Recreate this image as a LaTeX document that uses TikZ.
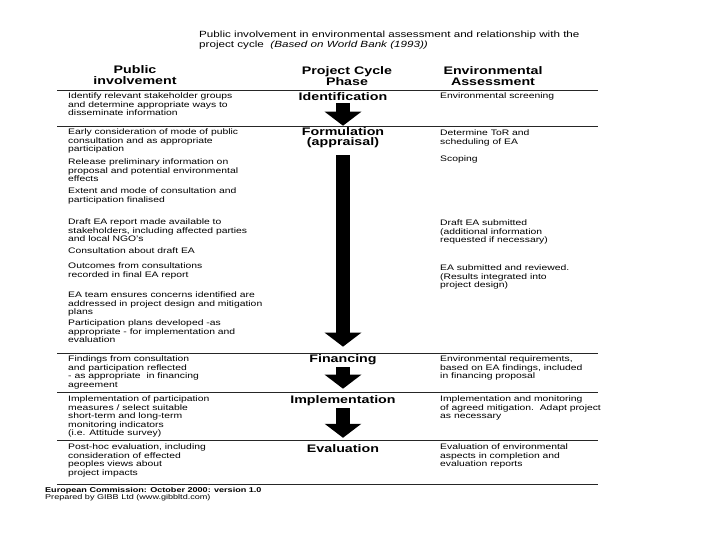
\documentclass[tikz,border=0pt]{standalone}
\usepackage{fontspec}
\setmainfont{Liberation Sans}[FakeStretch=1.3]
\usetikzlibrary{arrows.meta, positioning}

\begin{document}
\begin{tikzpicture}[
    x=1bp, y=-1bp,
    titletxt/.style={anchor=north west, inner sep=0pt, align=left, font=\fontsize{9}{9.5}\selectfont},
    hdr/.style={inner sep=0pt, align=center, font=\fontsize{11}{10.5}\selectfont\bfseries},
    phase/.style={inner sep=0pt, align=center, font=\fontsize{11}{10}\selectfont\bfseries},
    pubtxt/.style={anchor=north west, inner sep=0pt, align=left, font=\fontsize{8}{8.5}\selectfont},
    envtxt/.style={pubtxt},
    foottxt/.style={anchor=north west, inner sep=0pt, align=left, font=\fontsize{7}{7.5}\selectfont},
    rule/.style={line width=0.9bp, black!85},
    blockarr/.style={line width=14bp, -{Triangle[width=36bp, length=14bp]}}
]
    \useasboundingbox (0,0) rectangle (720,540);
    \fill[white] (0,0) rectangle (720,540);

    % Title
    \node[titletxt] (title) at (199,31) {Public involvement in environmental assessment and relationship with the\\project cycle\ \ \textit{(Based on World Bank (1993))}};

    % Column headers
    \node[hdr] (hdrpub) at (135,75) {Public\\involvement};
    \node[hdr] (hdrphase) at (347,76) {Project Cycle\\Phase};
    \node[hdr] (hdrenv) at (493,76) {Environmental\\Assessment};

    % Separators
    \foreach \y in {90,126,353,392,440,484}
        \draw[rule] (57,\y) -- (598,\y);

    % Project cycle phases
    \node[phase] (ident) at (343,97) {Identification};
    \node[phase] (form) at (343,138) {Formulation\\(appraisal)};
    \node[phase] (fin) at (343,360) {Financing};
    \node[phase] (impl) at (343,401) {Implementation};
    \node[phase] (evalph) at (343,449) {Evaluation};

    % Public involvement
    \node[pubtxt] (identify) at (68,93) {Identify relevant stakeholder groups\\and determine appropriate ways to\\disseminate information};
    \node[pubtxt] (early) at (68,129) {Early consideration of mode of public\\consultation and as appropriate\\participation};
    \node[pubtxt] (release) at (68,159) {Release preliminary information on\\proposal and potential environmental\\effects};
    \node[pubtxt] (extent) at (68,188) {Extent and mode of consultation and\\participation finalised};
    \node[pubtxt] (draftrep) at (68,219) {Draft EA report made available to\\stakeholders, including affected parties\\and local NGO's};
    \node[pubtxt] (consult) at (68,248) {Consultation about draft EA};
    \node[pubtxt] (outcomes) at (68,263) {Outcomes from consultations\\recorded in final EA report};
    \node[pubtxt] (eateam) at (68,292) {EA team ensures concerns identified are\\addressed in project design and mitigation\\plans};
    \node[pubtxt] (partplan) at (68,320) {Participation plans developed -as\\appropriate - for implementation and\\evaluation};
    \node[pubtxt] (findings) at (68,356) {Findings from consultation\\and participation reflected\\- as appropriate\ \ in financing\\agreement};
    \node[pubtxt] (implpart) at (68,396) {Implementation of participation\\measures / select suitable\\short-term and long-term\\monitoring indicators\\(i.e. Attitude survey)};
    \node[pubtxt] (posthoc) at (68,444) {Post-hoc evaluation, including\\consideration of effected\\peoples views about\\project impacts};

    % Environmental assessment
    \node[envtxt] (screening) at (440,93) {Environmental screening};
    \node[envtxt] (tor) at (440,130) {Determine ToR and\\scheduling of EA};
    \node[envtxt] (scoping) at (440,156) {Scoping};
    \node[envtxt] (draftsub) at (440,220) {Draft EA submitted\\(additional information\\requested if necessary)};
    \node[envtxt] (easub) at (440,265) {EA submitted and reviewed.\\(Results integrated into\\project design)};
    \node[envtxt] (envreq) at (440,356) {Environmental requirements,\\based on EA findings, included\\in financing proposal};
    \node[envtxt] (implmon) at (440,396) {Implementation and monitoring\\of agreed mitigation.\ \ Adapt project\\as necessary};
    \node[envtxt] (evalenv) at (440,444) {Evaluation of environmental\\aspects in completion and\\evaluation reports};

    % Footer
    \node[foottxt] (foot) at (45,487) {\textbf{European Commission: October 2000: version 1.0}\\Prepared by GIBB Ltd (www.gibbltd.com)};

    % Arrows
    \draw[blockarr, shorten <=2bp, shorten >=2bp] (ident) -- (form);
    \draw[blockarr, shorten <=7bp, shorten >=8bp] (form) -- (fin);
    \draw[blockarr, shorten <=2bp, shorten >=7bp] (fin) -- (impl);
    \draw[blockarr, shorten <=2bp, shorten >=7bp] (impl) -- (evalph);

\end{tikzpicture}
\end{document}
